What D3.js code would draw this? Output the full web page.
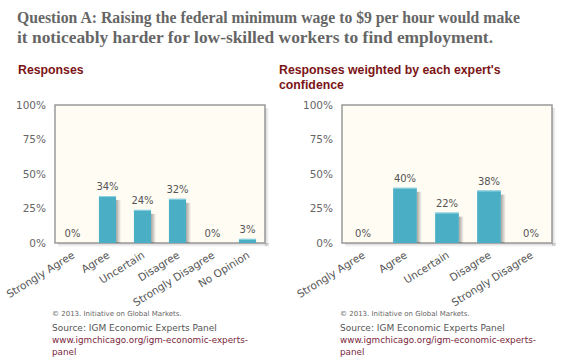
<!DOCTYPE html>
<html><head><meta charset="utf-8">
<script src="https://cdn.jsdelivr.net/npm/d3@7/dist/d3.min.js"></script>
<style>body{margin:0;background:#fff}svg{display:block}</style>
</head><body><svg id="c" width="570" height="363"></svg>
<script>
const categoriesA = ["Strongly Agree","Agree","Uncertain","Disagree","Strongly Disagree","No Opinion"];
const valuesA = [0,34,24,32,0,3];
const categoriesB = ["Strongly Agree","Agree","Uncertain","Disagree","Strongly Disagree"];
const valuesB = [0,40,22,38,0];
const yTicks = [0,25,50,75,100];
const titleLines = ["Question A: Raising the federal minimum wage to $9 per hour would make","it noticeably harder for low-skilled workers to find employment."];

const svg = d3.select("#c");
const defs = svg.append("defs");
const g1 = defs.append("linearGradient").attr("id","bshadow");
g1.append("stop").attr("offset","0").attr("stop-color","#000").attr("stop-opacity",0.35);
g1.append("stop").attr("offset","1").attr("stop-color","#000").attr("stop-opacity",0);
const g2 = defs.append("linearGradient").attr("id","pshadowR");
g2.append("stop").attr("offset","0").attr("stop-color","#000").attr("stop-opacity",0.18);
g2.append("stop").attr("offset","1").attr("stop-color","#000").attr("stop-opacity",0);
const g3 = defs.append("linearGradient").attr("id","pshadowB").attr("x1",0).attr("x2",0).attr("y1",0).attr("y2",1);
g3.append("stop").attr("offset","0").attr("stop-color","#000").attr("stop-opacity",0.18);
g3.append("stop").attr("offset","1").attr("stop-color","#000").attr("stop-opacity",0);

const titleWidths = [503, 476];
svg.append("g").selectAll("text").data(titleLines).join("text")
  .attr("x",17).attr("y",(d,i)=>23+i*20)
  .attr("font-family","'Liberation Serif', Georgia, serif").attr("font-weight","bold")
  .attr("font-size",16.8).attr("fill","#666")
  .attr("textLength",(d,i)=>titleWidths[i]).attr("lengthAdjust","spacingAndGlyphs")
  .text(d=>d);

function panel(ox, titleX, titles, cats, vals, barFrac, footX){
  const left = ox, right = ox+210, top = 105, bottom = 243;
  const x = d3.scaleBand().domain(cats).range([left,right]);
  const y = d3.scaleLinear().domain([0,100]).range([bottom,top]);
  const g = svg.append("g");
  g.selectAll("text.pt").data(titles).join("text").attr("class","pt")
    .attr("x", titleX).attr("y",(d,i)=>74+i*15)
    .attr("font-family","'Liberation Sans', Arial, sans-serif").attr("font-weight","bold")
    .attr("font-size",12.3).attr("fill","#7b1416").text(d=>d);
  // plot shadow
  g.append("rect").attr("x",right).attr("y",top+3).attr("width",4).attr("height",bottom-top)
    .attr("fill","url(#pshadowR)");
  g.append("rect").attr("x",left+3).attr("y",bottom).attr("width",right-left+1).attr("height",4)
    .attr("fill","url(#pshadowB)");
  g.append("rect").attr("x",left).attr("y",top).attr("width",right-left).attr("height",bottom-top)
    .attr("fill","#fffcf4").attr("stroke","#999").attr("stroke-width",1.5);
  // y axis
  const ya = g.append("g").attr("transform",`translate(${left-9},0)`)
    .call(d3.axisLeft(y).tickValues(yTicks).tickSize(0).tickPadding(0).tickFormat(d=>d+"%"));
  ya.select(".domain").remove();
  ya.selectAll("text").attr("font-family","'DejaVu Sans', Verdana, sans-serif").attr("font-size",10.5).attr("fill","#666");
  const bw = x.bandwidth()*barFrac;
  const bx = d => x(d) + (x.bandwidth()-bw)/2;
  const data = cats.map((c,i)=>({c, v: vals[i]}));
  g.selectAll("rect.sh").data(data.filter(d=>d.v>0)).join("rect").attr("class","sh")
    .attr("x",d=>bx(d.c)+bw).attr("y",d=>Math.min(y(d.v)+4,bottom)).attr("width",5)
    .attr("height",d=>Math.max(0,bottom-y(d.v)-4)).attr("fill","url(#bshadow)");
  g.selectAll("rect.bar").data(data).join("rect").attr("class","bar")
    .attr("x",d=>bx(d.c)).attr("y",d=>y(d.v)).attr("width",bw).attr("height",d=>bottom-y(d.v))
    .attr("fill","#4aafc5");
  g.selectAll("line.hl").data(data.filter(d=>d.v>0)).join("line").attr("class","hl")
    .attr("x1",d=>bx(d.c)).attr("x2",d=>bx(d.c)+bw).attr("y1",d=>y(d.v)+0.5).attr("y2",d=>y(d.v)+0.5)
    .attr("stroke","#8fd3e2").attr("stroke-width",1);
  g.selectAll("text.vl").data(data).join("text").attr("class","vl")
    .attr("x",d=>x(d.c)+x.bandwidth()/2).attr("y",d=>y(d.v)-6).attr("text-anchor","middle")
    .attr("font-family","'DejaVu Sans', Verdana, sans-serif").attr("font-size",10).attr("fill","#555")
    .text(d=>d.v+"%");
  // x axis labels
  const xa = g.append("g").attr("transform",`translate(0,${bottom})`)
    .call(d3.axisBottom(x).tickSize(0).tickPadding(0));
  xa.select(".domain").remove();
  xa.selectAll("text").attr("font-family","'DejaVu Sans', Verdana, sans-serif").attr("font-size",10.5)
    .attr("fill","#555").attr("text-anchor","end").attr("dy",null).attr("y",null)
    .attr("transform","translate(3,14) rotate(-32)");
  // footer
  const f = g.append("g").attr("font-family","'DejaVu Sans', Verdana, sans-serif");
  f.append("text").attr("x",footX).attr("y",316).attr("font-size",7).attr("fill","#666")
    .text("© 2013. Initiative on Global Markets.");
  f.append("text").attr("x",footX).attr("y",331).attr("font-size",9).attr("fill","#555")
    .text("Source: IGM Economic Experts Panel");
  f.append("text").attr("x",footX).attr("y",343).attr("font-size",8.8).attr("fill","#7a1f3c")
    .text("www.igmchicago.org/igm-economic-experts-");
  f.append("text").attr("x",footX).attr("y",355).attr("font-size",8.8).attr("fill","#7a1f3c")
    .text("panel");
}
panel(55, 18, ["Responses"], categoriesA, valuesA, 0.49, 52);
panel(342, 279, ["Responses weighted by each expert's","confidence"], categoriesB, valuesB, 0.565, 340);
</script></body></html>
